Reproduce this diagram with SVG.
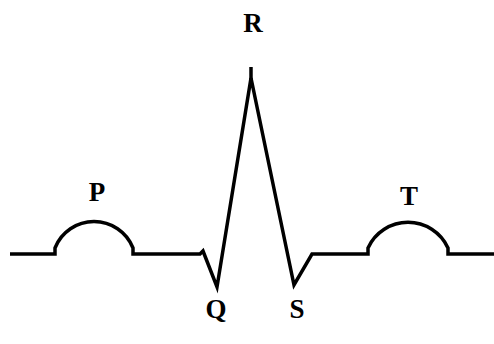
<svg xmlns="http://www.w3.org/2000/svg" width="494" height="344" viewBox="0 0 494 344">
<style>
.wave{fill:none;stroke:#000;stroke-width:3.5;stroke-linejoin:miter;stroke-linecap:butt}
.lbl{font-family:"Liberation Serif",serif;font-weight:bold;font-size:27px;fill:#000;text-anchor:middle}
</style>
<rect width="494" height="344" fill="#fff"/>
<g id="connectors">
<path class="wave" d="M10,254 H55 V248 A42,42 0 0 1 133,248 V254 H200 L203,251 L217,287 L251,78 L294,285 L312,254 H368 V248 A44,44 0 0 1 448,248 V254 H494"/>
<path class="wave" d="M251,67 V84"/>
</g>
<g id="P"><text class="lbl" x="97" y="201">P</text></g>
<g id="R"><text class="lbl" x="253" y="32">R</text></g>
<g id="T"><text class="lbl" x="409" y="205">T</text></g>
<g id="Q"><text class="lbl" x="216" y="318">Q</text></g>
<g id="S"><text class="lbl" x="297" y="318">S</text></g>
</svg>
